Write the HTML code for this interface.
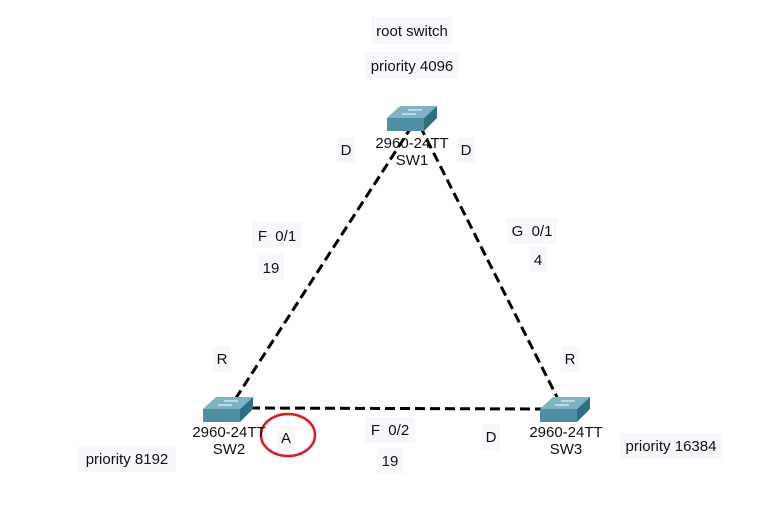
<!DOCTYPE html>
<html><head><meta charset="utf-8"><style>
html,body{margin:0;padding:0;background:#fff;}
svg{display:block;font-family:"Liberation Sans",Arial,sans-serif;}
</style></head><body>
<svg width="784" height="505" viewBox="0 0 784 505" xmlns="http://www.w3.org/2000/svg">
<defs>
<g id="sw">
  <polygon points="13,0 50,0 37,12 0,12" fill="#7fb3c4"/>
  <polygon points="0,12 37,12 37,25 0,25" fill="#4f8fa5"/>
  <polygon points="37,12 50,0 50,12 37,25" fill="#2e6f86"/>
  <line x1="21" y1="4" x2="35" y2="4" stroke="#fff" stroke-width="1"/>
  <line x1="15" y1="8" x2="29" y2="8" stroke="#fff" stroke-width="1"/>
</g>
</defs>
<g fill="#f7f8fc">
  <rect x="371" y="17" width="82" height="27"/>
  <rect x="365" y="52" width="94" height="27"/>
  <rect x="337" y="137" width="18" height="26"/>
  <rect x="457" y="137" width="18" height="26"/>
  <rect x="252" y="222" width="50" height="26"/>
  <rect x="258" y="254" width="26" height="26"/>
  <rect x="507" y="218" width="50" height="26"/>
  <rect x="529" y="246" width="18" height="26"/>
  <rect x="213" y="346" width="18" height="26"/>
  <rect x="561" y="346" width="18" height="26"/>
  <rect x="277" y="425" width="18" height="26"/>
  <rect x="365" y="417" width="50" height="26"/>
  <rect x="377" y="448" width="26" height="26"/>
  <rect x="482" y="424" width="18" height="26"/>
  <rect x="78" y="446" width="98" height="26"/>
  <rect x="620" y="433" width="102" height="26"/>
</g>
<g stroke="#000" stroke-width="3" stroke-dasharray="10,5" fill="none">
  <line x1="412" y1="126" x2="236" y2="398"/>
  <line x1="420" y1="126" x2="557" y2="397"/>
  <line x1="250" y1="408" x2="545" y2="409"/>
</g>
<use href="#sw" x="387" y="106"/>
<use href="#sw" x="203" y="397"/>
<use href="#sw" x="540" y="397"/>
<ellipse cx="288" cy="435" rx="27" ry="21" fill="none" stroke="#e0191c" stroke-width="2.5"/>
<g font-size="15" fill="#111" text-anchor="middle">
  <text x="412" y="36">root switch</text>
  <text x="412" y="71">priority 4096</text>
  <text x="412" y="148">2960-24TT</text>
  <text x="412" y="165">SW1</text>
  <text x="346" y="155">D</text>
  <text x="466" y="155">D</text>
  <text x="277" y="241">F&#160;&#160;0/1</text>
  <text x="271" y="273">19</text>
  <text x="532" y="236">G&#160;&#160;0/1</text>
  <text x="538" y="265">4</text>
  <text x="222" y="364">R</text>
  <text x="570" y="364">R</text>
  <text x="229" y="437">2960-24TT</text>
  <text x="229" y="454">SW2</text>
  <text x="286" y="443">A</text>
  <text x="390" y="435">F&#160;&#160;0/2</text>
  <text x="390" y="466">19</text>
  <text x="491" y="442">D</text>
  <text x="566" y="437">2960-24TT</text>
  <text x="566" y="454">SW3</text>
  <text x="127" y="464">priority 8192</text>
  <text x="671" y="451">priority 16384</text>
</g>
</svg>
</body></html>
